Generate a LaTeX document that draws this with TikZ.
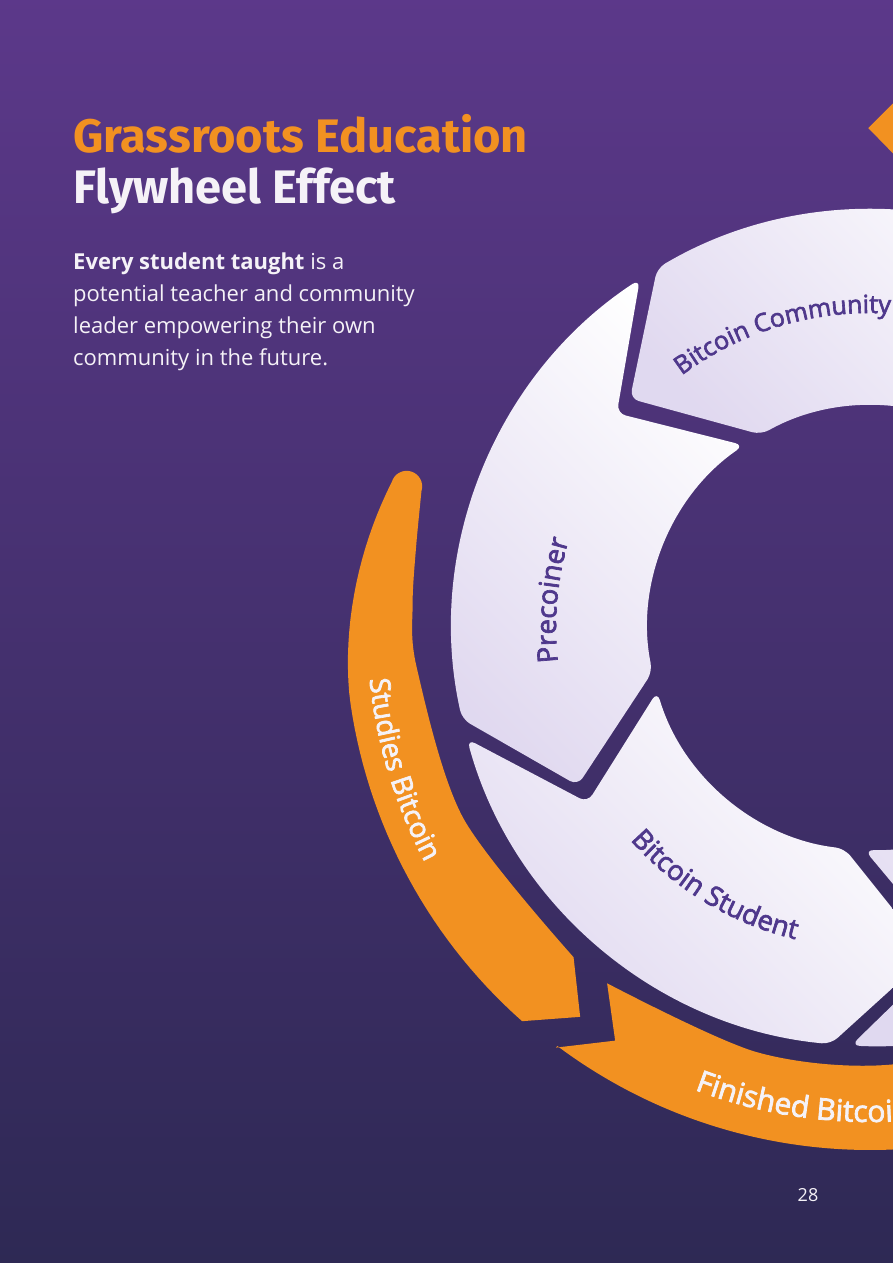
\documentclass[tikz,border=0pt]{standalone}
\usepackage{fontspec}
\setmainfont{Open Sans}
\newfontfamily\headfont{Fira Sans}
\newfontfamily\labelfont{Open Sans}[FakeBold=2.5]
\usetikzlibrary{decorations.text}

\definecolor{colorbgtop}{rgb}{0.36, 0.22, 0.54}
\definecolor{colorbgbot}{rgb}{0.18, 0.16, 0.33}
\definecolor{colororange}{rgb}{0.95, 0.57, 0.13}
\definecolor{colorlav}{rgb}{0.88, 0.85, 0.94}
\definecolor{colorringtext}{rgb}{0.31, 0.22, 0.55}
\definecolor{colorwhite}{rgb}{0.96, 0.95, 0.97}
\newcommand{\ringfont}{\labelfont\fontsize{27.5}{30}\selectfont\color{colorringtext}}
\newcommand{\ringfontsmall}{\labelfont\fontsize{25}{28}\selectfont\color{colorringtext}}
\newcommand{\flowfont}{\labelfont\fontsize{28}{30}\selectfont\color{colorwhite}}
\newcommand{\flowfontbig}{\labelfont\fontsize{30}{32}\selectfont\color{colorwhite}}
\tikzstyle{segment}=[left color=colorlav, right color=white, shading angle=135, rounded corners=9pt]
\tikzstyle{flowarrow}=[fill=colororange]
\tikzstyle{headline}=[anchor=base west, inner sep=0pt, font=\headfont\bfseries\fontsize{47}{50}\selectfont]
\tikzstyle{bodyline}=[anchor=base west, inner sep=0pt, text=colorwhite, font=\fontsize{22}{32}\selectfont]
\tikzstyle{pagenum}=[inner sep=0pt, text=colorwhite, font=\fontsize{18}{20}\selectfont]

\begin{document}
\begin{tikzpicture}[x=1pt, y=1pt]

		\useasboundingbox (-870,-635) rectangle (23,628);
		\clip (-870,-635) rectangle (23,628);
		\shade[top color=colorbgtop, bottom color=colorbgbot] (-870,-635) rectangle (23,628);

		\foreach \a in {50,122,194,266}{
			\pgfmathsetmacro{\b}{\a+72}
			\shade[segment] ({\a+1.4}:418pt) arc[start angle={\a+1.4}, end angle={\b-1.4}, radius=418pt]
				-- ({\b+14.3}:332pt) -- ({\b-2.6}:222pt)
				arc[start angle={\b-2.6}, end angle={\a+2.6}, radius=222pt]
				-- ({\a+17.7}:332pt) -- cycle;
		}

		\fill[flowarrow] (163:469pt) arc[start angle=-17, end angle=163, radius=15.5pt]
			-- plot[domain=163:228.5, samples=50, variable=\t] ({\t}:{525-25*(max(0,1-(\t-163)/25))^1.5})
			-- (233.3:485pt) -- (228:443pt)
			-- plot[smooth] coordinates {(228:443pt) (205:449pt) (185:455pt) (177:458pt) (170:461pt) (163:469pt)}
			-- cycle;
		\fill[flowarrow] (233.2:524pt) -- (238.3:485pt) -- (233.5:442pt)
			-- plot[smooth] coordinates {(233.5:442pt) (255:439pt) (273:437pt) (295:436pt)}
			-- (295:522pt) arc[start angle=295, end angle=233.2, radius=522pt] -- cycle;
		\fill[flowarrow] (87.5:525pt) -- (90.2:500pt) -- (87.2:475pt)
			arc[start angle=87.2, end angle=60, radius=475pt]
			-- (60:525pt) arc[start angle=60, end angle=87.5, radius=525pt] -- cycle;

		\path[decorate, decoration={text along path, text align=center, text={|\ringfontsmall|Bitcoin Community}}]
			(146.5:315pt) arc[start angle=146.5, end angle=66.5, radius=315pt];
		\path[decorate, decoration={text along path, text align=center, text={|\ringfont|Precoiner}}]
			(210:314pt) arc[start angle=210, end angle=140, radius=314pt];
		\path[decorate, decoration={text along path, text align=center, text={|\ringfont|Bitcoin Student}}]
			(199:320pt) arc[start angle=199, end angle=279, radius=320pt];
		\path[decorate, decoration={text along path, text align=center, text={|\flowfont|Studies Bitcoin}}]
			(171.8:503pt) arc[start angle=171.8, end angle=221.8, radius=503pt];
		\path[decorate, decoration={text along path, text={|\flowfontbig|Finished Bitcoin}}]
			(249.2:494pt) arc[start angle=249.2, end angle=310, radius=494pt];

		\node[headline, text=colororange] at (-797,475) (titletop) {Grassroots Education};
		\node[headline, text=colorwhite] at (-797,424) (titlebottom) {Flywheel Effect};

		\node[bodyline] at (-797,358) (bodyone) {\textbf{Every student taught} is a};
		\node[bodyline] at (-797,326) (bodytwo) {potential teacher and community};
		\node[bodyline] at (-797,294) (bodythree) {leader empowering their own};
		\node[bodyline] at (-797,262) (bodyfour) {community in the future.};

		\node[pagenum] at (-62,-567) (pageno) {28};

\end{tikzpicture}
\end{document}
